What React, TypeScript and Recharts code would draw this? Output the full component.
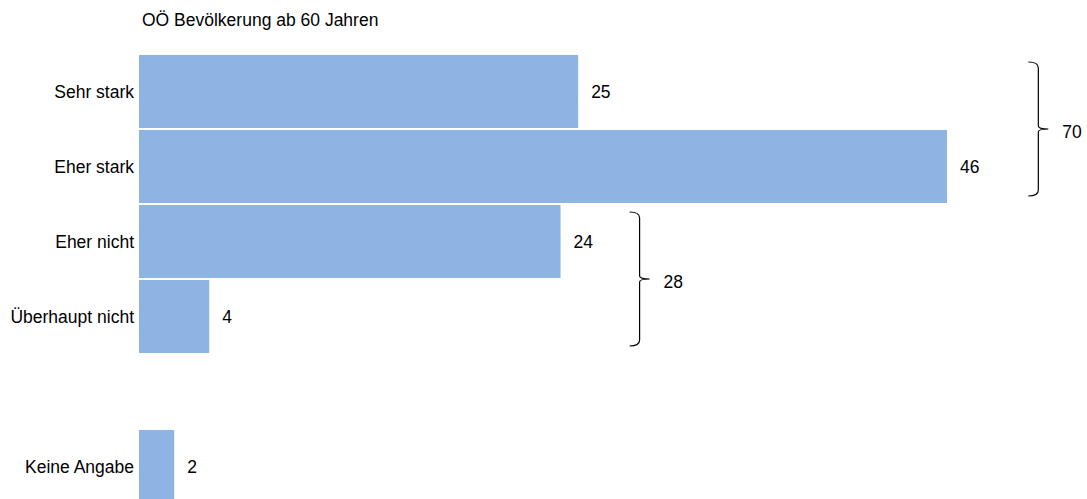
import { BarChart, Bar, XAxis, YAxis, LabelList, ReferenceArea } from "recharts";

const title = "OÖ Bevölkerung ab 60 Jahren";
const categories = ["Sehr stark", "Eher stark", "Eher nicht", "Überhaupt nicht", "", "Keine Angabe"];
const values = [25, 46, 24, 4, null, 2];

// bracket groups: first / last category and the summed value shown beside it
const groupFrom = ["Sehr stark", "Eher nicht"];
const groupTo = ["Eher stark", "Überhaupt nicht"];
const groupTotals = [70, 28];

const FONT = "'Liberation Sans', Arial, sans-serif";
const FS = 17.5;
const BAR = "#8EB4E3";
// distance of each bracket from the longest bar in its group (axis units)
const BRACE_GAP = [5.2, 4.5];

const data = categories.map((name, i) => ({ name, value: values[i] }));

function groupMax(i: number) {
  const a = categories.indexOf(groupFrom[i]);
  const b = categories.indexOf(groupTo[i]);
  return Math.max(...values.slice(a, b + 1).map((v) => v ?? 0));
}

function Brace(props: any) {
  const { x, y, height, total } = props;
  const X = x;
  const T = y + 8;
  const B = y + height - 8;
  const M = (T + B) / 2;
  const d = [
    `M ${X - 10} ${T}`,
    `Q ${X} ${T} ${X} ${T + 6}`,
    `L ${X} ${M - 3}`,
    `Q ${X} ${M} ${X + 10} ${M}`,
    `Q ${X} ${M} ${X} ${M + 3}`,
    `L ${X} ${B - 6}`,
    `Q ${X} ${B} ${X - 10} ${B}`,
  ].join(" ");
  return (
    <g>
      <path d={d} fill="none" stroke="#000" strokeWidth={1.2} />
      <text x={X + 24} y={M + 3} fontSize={FS} fontFamily={FONT} fill="#000" dominantBaseline="central">
        {total}
      </text>
    </g>
  );
}

export default function App() {
  return (
    <div
      style={{
        position: "fixed",
        left: 0,
        top: 0,
        width: 1087,
        height: 499,
        overflow: "hidden",
        background: "#fff",
      }}
    >
      <div
        style={{
          position: "absolute",
          left: 142,
          top: 12,
          fontFamily: FONT,
          fontSize: FS,
          lineHeight: `${FS}px`,
          color: "#000",
          whiteSpace: "nowrap",
        }}
      >
        {title}
      </div>
      <BarChart
        width={1087}
        height={520}
        data={data}
        layout="vertical"
        margin={{ top: 54, right: 3, bottom: 16, left: 0 }}
        barCategoryGap={1}
      >
        <XAxis type="number" domain={[0, 53.8]} hide />
        <YAxis
          type="category"
          dataKey="name"
          width={139}
          axisLine={false}
          tickLine={false}
          tickSize={0}
          tickMargin={5}
          interval={0}
          tick={{ fontSize: FS, fontFamily: FONT, fill: "#000" }}
        />
        <Bar dataKey="value" fill={BAR} isAnimationActive={false}>
          <LabelList
            dataKey="value"
            position="right"
            offset={13}
            style={{ fontSize: FS, fontFamily: FONT, fill: "#000" }}
          />
        </Bar>
        {groupTotals.map((total, i) => {
          const xPos = groupMax(i) + BRACE_GAP[i];
          return (
            <ReferenceArea
              key={i}
              x1={xPos}
              x2={xPos + 1}
              y1={groupFrom[i]}
              y2={groupTo[i]}
              ifOverflow="visible"
              shape={(p: any) => <Brace {...p} total={total} />}
            />
          );
        })}
      </BarChart>
    </div>
  );
}
